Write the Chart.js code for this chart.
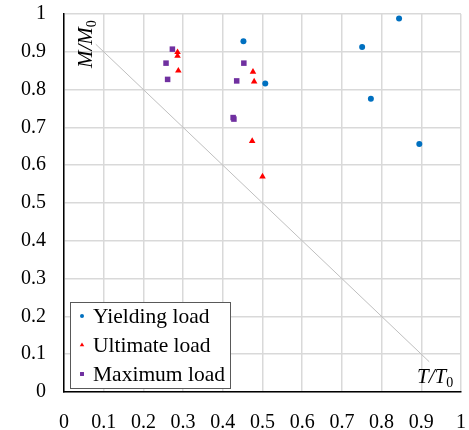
<!DOCTYPE html>
<html>
<head>
<meta charset="utf-8">
<script src="https://cdn.jsdelivr.net/npm/chart.js@4.4.1/dist/chart.umd.min.js"></script>
<style>
html, body { margin: 0; padding: 0; background: #fff; }
</style>
</head>
<body>
<canvas id="chart" width="469" height="430"></canvas>
<script>
// tick values and labels (both axes)
var tickValues = [0, 0.1, 0.2, 0.3, 0.4, 0.5, 0.6, 0.7, 0.8, 0.9, 1];
var tickLabels = ['0', '0.1', '0.2', '0.3', '0.4', '0.5', '0.6', '0.7', '0.8', '0.9', '1'];

// Yielding load
var yieldingT = [0.452, 0.507, 0.751, 0.773, 0.844, 0.895];
var yieldingM = [0.928, 0.816, 0.913, 0.776, 0.988, 0.656];

// Ultimate load
var ultimateT = [0.286, 0.286, 0.288, 0.476, 0.479, 0.474, 0.500];
var ultimateM = [0.899, 0.889, 0.850, 0.847, 0.821, 0.664, 0.570];

// Maximum load
var maximumT = [0.273, 0.257, 0.261, 0.453, 0.435, 0.426, 0.428];
var maximumM = [0.907, 0.870, 0.827, 0.870, 0.823, 0.726, 0.722];

// reference line T/T0 + M/M0 = 1
var refT = [0.08, 0.92];
var refM = [0.92, 0.08];

var labels = ['Yielding load', 'Ultimate load', 'Maximum load'];
var colors = ['#0070C0', '#FF0000', '#7030A0'];
var serif = "'Liberation Serif', 'Times New Roman', serif";

function pts(xs, ys) {
    return xs.map(function (x, i) { return { x: x, y: ys[i] }; });
}

var setTicks = function (scale) {
    scale.ticks = tickValues.map(function (v) { return { value: v }; });
};

var overlay = {
    id: 'overlay',
    afterDraw: function (chart) {
        var c = chart.ctx;
        c.save();
        c.fillStyle = '#000';
        c.textBaseline = 'alphabetic';
        c.textAlign = 'left';

        // y title, rotated
        c.save();
        c.translate(92, 68);
        c.rotate(-Math.PI / 2);
        c.font = 'italic 21px ' + serif;
        c.fillText('M/M', 0, 0);
        var w = c.measureText('M/M').width;
        c.font = '14px ' + serif;
        c.fillText('0', w, 4);
        c.restore();

        // x title
        c.font = 'italic 21px ' + serif;
        c.fillText('T/T', 417, 383);
        var w2 = c.measureText('T/T').width;
        c.font = '14px ' + serif;
        c.fillText('0', 417 + w2, 387);

        // legend box
        c.fillStyle = '#fff';
        c.fillRect(70, 302, 160, 86);
        c.strokeStyle = '#595959';
        c.lineWidth = 1;
        c.strokeRect(70.5, 302.5, 160, 86);

        var styles = ['circle', 'triangle', 'rect'];
        var radii = [2, 2.6, 2.8];
        for (var i = 0; i < 3; i++) {
            var yb = 323 + i * 29;
            c.fillStyle = colors[i];
            c.strokeStyle = colors[i];
            Chart.helpers.drawPoint(c, { pointStyle: styles[i], radius: radii[i], rotation: 0, borderWidth: 0 }, 82, yb - 7);
            c.fillStyle = '#000';
            c.font = '21.5px ' + serif;
            c.fillText(labels[i], 93, yb);
        }
        c.restore();
    }
};

var axisCommon = {
    type: 'linear',
    min: 0,
    max: 1,
    afterBuildTicks: setTicks,
    grid: { color: '#d9d9d9', lineWidth: 1.5, drawTicks: false },
    border: { color: '#000', width: 1.5 },
    ticks: {
        color: '#000',
        font: { family: serif, size: 20 },
        callback: function (v, i) { return tickLabels[i]; }
    }
};

function noPad(s) {
    s.paddingLeft = 0;
    s.paddingRight = 0;
    s.paddingTop = 0;
    s.paddingBottom = 0;
}

new Chart(document.getElementById('chart'), {
    type: 'scatter',
    data: {
        datasets: [{
            label: labels[0],
            data: pts(yieldingT, yieldingM),
            pointStyle: 'circle',
            pointRadius: 3,
            backgroundColor: colors[0],
            borderColor: colors[0],
            borderWidth: 0,
            order: 1
        }, {
            label: labels[1],
            data: pts(ultimateT, ultimateM),
            pointStyle: 'triangle',
            pointRadius: 3.8,
            backgroundColor: colors[1],
            borderColor: colors[1],
            borderWidth: 0,
            order: 1
        }, {
            label: labels[2],
            data: pts(maximumT, maximumM),
            pointStyle: 'rect',
            pointRadius: 3.9,
            backgroundColor: colors[2],
            borderColor: colors[2],
            borderWidth: 0,
            order: 1
        }, {
            type: 'line',
            label: 'ref',
            data: pts(refT, refM),
            borderColor: '#bfbfbf',
            borderWidth: 1,
            pointRadius: 0,
            fill: false,
            order: 10
        }]
    },
    options: {
        responsive: false,
        animation: false,
        devicePixelRatio: 1,
        layout: { padding: { top: 14, right: 8, left: 0, bottom: 0 } },
        plugins: {
            legend: { display: false },
            tooltip: { enabled: false }
        },
        scales: {
            x: Object.assign({}, axisCommon, {
                ticks: Object.assign({}, axisCommon.ticks, { padding: 19, maxRotation: 0 }),
                afterFit: function (s) { s.height = 38; noPad(s); }
            }),
            y: Object.assign({}, axisCommon, {
                ticks: Object.assign({}, axisCommon.ticks, { padding: 18 }),
                afterFit: function (s) { s.width = 64; noPad(s); }
            })
        }
    },
    plugins: [overlay]
});
</script>
</body>
</html>
